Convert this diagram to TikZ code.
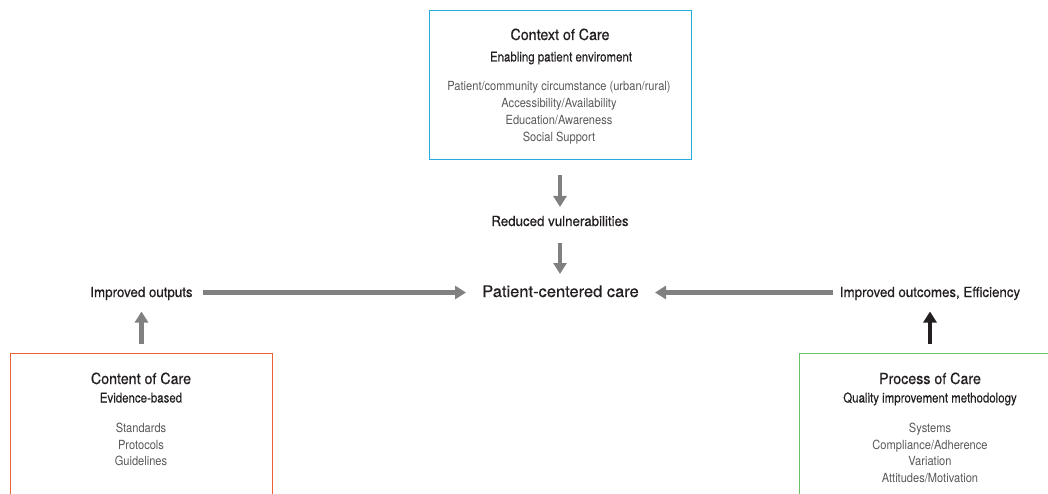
\documentclass[tikz,border=0pt]{standalone}
\usepackage{fontspec}
\setmainfont{TeX Gyre Heros}[FakeStretch=0.93]
\newfontfamily\fttl{TeX Gyre Heros}[FakeStretch=0.93,FakeBold=0.6]
\newfontfamily\fsub{TeX Gyre Heros}[FakeStretch=0.85,FakeBold=0.3]
\newfontfamily\fitm{TeX Gyre Heros}[FakeStretch=0.88]
\newfontfamily\flbl{TeX Gyre Heros}[FakeStretch=0.95,FakeBold=0.6]
\newfontfamily\fpcc{TeX Gyre Heros}[FakeStretch=1.03,FakeBold=0.6]
\usetikzlibrary{arrows.meta}
\definecolor{txt}{RGB}{35,31,32}
\definecolor{itm}{RGB}{88,88,88}
\definecolor{arr}{RGB}{128,128,128}
\definecolor{cblue}{RGB}{41,171,226}
\definecolor{corange}{RGB}{240,95,50}
\definecolor{cgreen}{RGB}{100,195,100}
\tikzset{
  frame/.style={draw, line width=1.3pt, inner sep=0pt, anchor=north west},
  ttl/.style={text=txt, font=\fttl\fontsize{15.3}{17}\selectfont, inner sep=0pt, anchor=base},
  sub/.style={text=txt, font=\fsub\fontsize{13.5}{15}\selectfont, inner sep=0pt, anchor=base},
  itm/.style={text=itm, font=\fitm\fontsize{12.6}{14}\selectfont, inner sep=0pt, anchor=base},
  lbl/.style={text=txt, font=\flbl\fontsize{14}{16}\selectfont, inner sep=0pt, anchor=base},
  garrow/.style={draw=arr, line width=4.5pt, -{Triangle[length=11pt,width=13pt]}},
  barrow/.style={draw=txt, line width=4.5pt, -{Triangle[length=11pt,width=13pt]}}
}
\begin{document}
\begin{tikzpicture}[x=1pt,y=-1pt]
\useasboundingbox (0,0) rectangle (1048,494);
\clip (0,0) rectangle (1048,494);
% boxes
\node[frame, draw=cblue, minimum width=262pt, minimum height=149pt] (ctxbox) at (429,10) {};
\node[frame, draw=corange, minimum width=262pt, minimum height=200pt] (cntbox) at (10,353) {};
\node[frame, draw=cgreen, minimum width=300pt, minimum height=200pt] (prcbox) at (799,353) {};
% context text
\node[ttl] (ctxt) at (560,40) {Context of Care};
\node[sub] (ctxs) at (561,61.5) {Enabling patient enviroment};
\node[itm] (ctxi1) at (559,91) {Patient/community circumstance (urban/rural)};
\node[itm] (ctxi2) at (559,108) {Accessibility/Availability};
\node[itm] (ctxi3) at (559,124.5) {Education/Awareness};
\node[itm] (ctxi4) at (559,141.5) {Social Support};
% content text
\node[ttl] (cntt) at (141,384) {Content of Care};
\node[sub] (cnts) at (141,402.5) {Evidence-based};
\node[itm] (cnti1) at (141,432.5) {Standards};
\node[itm] (cnti2) at (141,449) {Protocols};
\node[itm] (cnti3) at (141,465.5) {Guidelines};
% process text
\node[ttl] (prct) at (930,384) {Process of Care};
\node[sub] (prcs) at (930,402.5) {Quality improvement methodology};
\node[itm] (prci1) at (930,432.5) {Systems};
\node[itm] (prci2) at (930,449) {Compliance/Adherence};
\node[itm] (prci3) at (930,465.5) {Variation};
\node[itm] (prci4) at (930,482) {Attitudes/Motivation};
% labels
\node[lbl] (red) at (560,226) {Reduced vulnerabilities};
\node[text=txt, font=\fpcc\fontsize{16}{18}\selectfont, inner sep=0pt, anchor=base] (pcc) at (560.5,297) {Patient-centered care};
\node[lbl] (iop) at (141.5,297) {Improved outputs};
\node[lbl] (ioc) at (930,297) {Improved outcomes, Efficiency};
% connector end points
\coordinate (a1s) at (560,175);
\coordinate (a1e) at (560,207);
\coordinate (a2s) at (560,243);
\coordinate (a2e) at (560,274);
\coordinate (a3s) at (203,292.5);
\coordinate (a3e) at (466,292.5);
\coordinate (a4s) at (833,292.5);
\coordinate (a4e) at (655,292.5);
\coordinate (a5s) at (141.5,344);
\coordinate (a5e) at (141.5,311.5);
\coordinate (a6s) at (930,344);
\coordinate (a6e) at (930,311.5);
\draw[garrow] (a1s) -- (a1e);
\draw[garrow] (a2s) -- (a2e);
\draw[garrow] (a3s) -- (a3e);
\draw[garrow] (a4s) -- (a4e);
\draw[garrow] (a5s) -- (a5e);
\draw[barrow] (a6s) -- (a6e);
\end{tikzpicture}
\end{document}
